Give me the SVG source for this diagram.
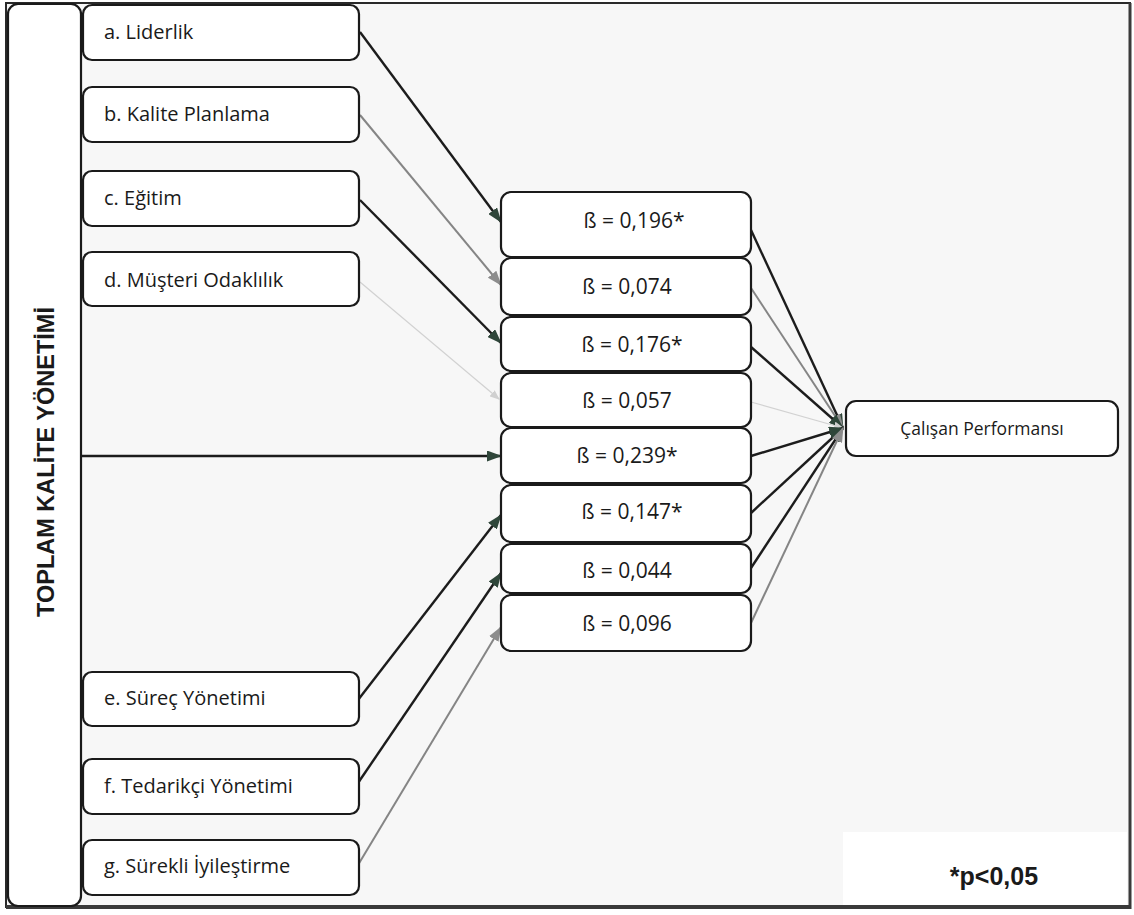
<svg xmlns="http://www.w3.org/2000/svg" width="1134" height="915" viewBox="0 0 1134 915">
  <defs>
    <marker id="ahDark" markerUnits="userSpaceOnUse" markerWidth="15" markerHeight="11" refX="14" refY="5.5" orient="auto">
      <path d="M0,0 L15,5.5 L0,11 z" fill="#2f463a"/>
    </marker>
    <marker id="ahGray" markerUnits="userSpaceOnUse" markerWidth="15" markerHeight="11" refX="14" refY="5.5" orient="auto">
      <path d="M0,0 L15,5.5 L0,11 z" fill="#8c8c8c"/>
    </marker>
    <marker id="ahLight" markerUnits="userSpaceOnUse" markerWidth="10" markerHeight="8" refX="9" refY="4" orient="auto">
      <path d="M0,0 L10,4 L0,8 z" fill="#d0d0d0"/>
    </marker>
  </defs>
  <style>
    .box { fill: #ffffff; stroke: #1a1a1a; stroke-width: 2.2; }
    .lbl { font-family: "Open Sans", "Liberation Sans", sans-serif; font-size: 20px; fill: #1a1a1a; }
    .beta { font-family: "Open Sans", "Liberation Sans", sans-serif; font-size: 21px; fill: #1a1a1a; text-anchor: middle; }
    .out { font-family: "Open Sans", "Liberation Sans", sans-serif; font-size: 17.5px; fill: #1a1a1a; text-anchor: middle; }
    .dark { stroke: #1c1c1c; stroke-width: 2.4; fill: none; }
    .gray { stroke: #858585; stroke-width: 2; fill: none; }
    .light { stroke: #d2d2d2; stroke-width: 1.2; fill: none; }
  </style>

  <rect x="0" y="0" width="1134" height="915" fill="#ffffff"/>
  <rect id="frame" x="6" y="3" width="1124" height="904" fill="#f7f7f7" stroke="#2a2a2a" stroke-width="2"/>
  <line x1="6" y1="907" x2="1130" y2="907" stroke="#3a3a3a" stroke-width="4"/>
  <line x1="1130" y1="3" x2="1130" y2="909" stroke="#3a3a3a" stroke-width="3"/>

  <g id="footnote">
    <rect x="843" y="832" width="284" height="73" fill="#ffffff"/>
    <text x="994" y="885" font-family="Liberation Sans, Arial, sans-serif" font-size="25" font-weight="bold" fill="#1a1a1a" text-anchor="middle">*p&lt;0,05</text>
  </g>

  <g id="connectors">
    <line class="dark" x1="360" y1="32" x2="501" y2="222" marker-end="url(#ahDark)"/>
    <line class="gray" x1="360" y1="115" x2="501" y2="285" marker-end="url(#ahGray)"/>
    <line class="dark" x1="360" y1="200" x2="501" y2="343" marker-end="url(#ahDark)"/>
    <line class="light" x1="360" y1="282" x2="499" y2="399" marker-end="url(#ahLight)"/>
    <line class="dark" x1="81" y1="456" x2="501" y2="456" stroke-width="2" marker-end="url(#ahDark)"/>
    <line class="dark" x1="358" y1="700" x2="501" y2="515" stroke-width="3" marker-end="url(#ahDark)"/>
    <line class="dark" x1="358" y1="783" x2="501" y2="573" stroke-width="2" stroke="#2a2a2a" marker-end="url(#ahDark)"/>
    <line class="gray" x1="358" y1="865" x2="501" y2="627" stroke="#7a7a7a" marker-end="url(#ahGray)"/>

    <line class="dark" x1="751" y1="230" x2="843" y2="428" marker-end="url(#ahDark)"/>
    <line class="gray" x1="751" y1="288" x2="843" y2="428" marker-end="url(#ahGray)"/>
    <line class="dark" x1="751" y1="347" x2="843" y2="428" marker-end="url(#ahDark)"/>
    <line class="light" x1="751" y1="402" x2="843" y2="428" marker-end="url(#ahLight)"/>
    <line class="dark" x1="751" y1="456" x2="843" y2="428" marker-end="url(#ahDark)"/>
    <line class="dark" x1="751" y1="513" x2="843" y2="428" stroke-width="3" marker-end="url(#ahDark)"/>
    <line class="dark" x1="751" y1="568" x2="843" y2="428" stroke-width="2" stroke="#2e3a33" marker-end="url(#ahDark)"/>
    <line class="gray" x1="751" y1="623" x2="843" y2="428" stroke="#7a8a80" marker-end="url(#ahGray)"/>
  </g>

  <g id="tkm">
    <rect class="box" x="8" y="4" width="73" height="902" rx="10"/>
    <text transform="translate(54,462) rotate(-90)" font-family="Liberation Sans, Arial, sans-serif" font-size="23" font-weight="bold" fill="#1a1a1a" text-anchor="middle" textLength="310" lengthAdjust="spacingAndGlyphs">TOPLAM KALİTE YÖNETİMİ</text>
  </g>

  <g id="a"><rect class="box" x="83" y="5" width="276" height="55" rx="9"/><text class="lbl" x="104" y="39">a. Liderlik</text></g>
  <g id="b"><rect class="box" x="83" y="87" width="276" height="55" rx="9"/><text class="lbl" x="104" y="121">b. Kalite Planlama</text></g>
  <g id="c"><rect class="box" x="83" y="171" width="276" height="55" rx="9"/><text class="lbl" x="104" y="205">c. Eğitim</text></g>
  <g id="d"><rect class="box" x="83" y="252" width="276" height="54" rx="9"/><text class="lbl" x="104" y="287">d. Müşteri Odaklılık</text></g>
  <g id="e"><rect class="box" x="83" y="672" width="276" height="54" rx="9"/><text class="lbl" x="104" y="705">e. Süreç Yönetimi</text></g>
  <g id="f"><rect class="box" x="83" y="759" width="276" height="55" rx="9"/><text class="lbl" x="104" y="793">f. Tedarikçi Yönetimi</text></g>
  <g id="g"><rect class="box" x="83" y="840" width="276" height="55" rx="9"/><text class="lbl" x="104" y="873">g. Sürekli İyileştirme</text></g>

  <g id="b1"><rect class="box" x="501" y="192" width="250" height="65" rx="10"/><text class="beta" x="634" y="228">ß = 0,196*</text></g>
  <g id="b2"><rect class="box" x="501" y="258" width="250" height="57" rx="10"/><text class="beta" x="627" y="294">ß = 0,074</text></g>
  <g id="b3"><rect class="box" x="501" y="317" width="250" height="54" rx="10"/><text class="beta" x="632" y="352">ß = 0,176*</text></g>
  <g id="b4"><rect class="box" x="501" y="373" width="250" height="54" rx="10"/><text class="beta" x="627" y="408">ß = 0,057</text></g>
  <g id="b5"><rect class="box" x="501" y="428" width="250" height="55" rx="10"/><text class="beta" x="627" y="463">ß = 0,239*</text></g>
  <g id="b6"><rect class="box" x="501" y="485" width="250" height="57" rx="10"/><text class="beta" x="632" y="519">ß = 0,147*</text></g>
  <g id="b7"><rect class="box" x="501" y="544" width="250" height="49" rx="10"/><text class="beta" x="627" y="578">ß = 0,044</text></g>
  <g id="b8"><rect class="box" x="501" y="595" width="250" height="56" rx="10"/><text class="beta" x="627" y="631">ß = 0,096</text></g>

  <g id="perf"><rect class="box" x="846" y="401" width="272" height="55" rx="10"/><text class="out" x="982" y="435">Çalışan Performansı</text></g>
</svg>
